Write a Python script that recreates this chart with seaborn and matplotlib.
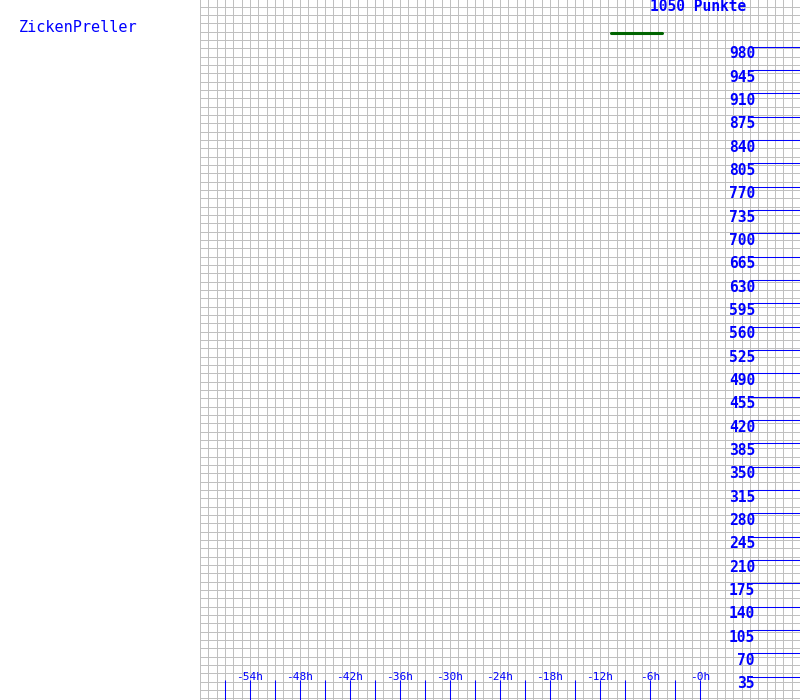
import numpy as np
import pandas as pd
import matplotlib
matplotlib.use("Agg")
import matplotlib.pyplot as plt
import seaborn as sns

# ---- data ----
title_left = "ZickenPreller"
title_right = "1050 Punkte"
series_hours = [-10.7, -4.6]
series_points = [1000, 1000]
y_tick_values = [35 * k for k in range(1, 29)]          # 35 ... 980
x_tick_hours = list(range(-57, 1, 3))                    # small tick marks
x_label_hours = [-54, -48, -42, -36, -30, -24, -18, -12, -6, 0]
x_labels = ["-54h", "-48h", "-42h", "-36h", "-30h", "-24h", "-18h", "-12h", "-6h", "-0h"]

BLUE = "#0000ff"
GREEN = "#006400"
GRID = "#c0c0c0"

sns.set_style("white")
plt.rcParams["font.family"] = ["DejaVu Sans Mono", "DejaVu Sans"]

fig = plt.figure(figsize=(8, 7), dpi=100)
ax = fig.add_axes([0.25, 0.0, 0.75, 1.0])
ax.set_xlim(-60, 12)
ax.set_ylim(0, 1050)
for s in ax.spines.values():
    s.set_visible(False)

# background grid
ax.set_xticks(np.arange(-60, 13, 1))
ax.set_yticks(np.arange(2.5, 1050, 12.5))
ax.tick_params(length=0, labelbottom=False, labelleft=False)
ax.grid(True, color=GRID, linewidth=0.72, antialiased=False)
ax.set_axisbelow(True)

# series
df = pd.DataFrame({"h": series_hours, "p": series_points})
sns.lineplot(data=df, x="h", y="p", ax=ax, color=GREEN, linewidth=2.2, legend=False)
ax.set_xlabel("")
ax.set_ylabel("")

# right-side value scale
ax.hlines(y_tick_values, 6, 12, color=BLUE, linewidth=0.75, snap=True)
for v in y_tick_values:
    ax.text(6.6, v - 10.5, str(v), color=BLUE, fontsize=10.5, fontweight="bold",
            ha="right", va="center")

# bottom time scale
ax.vlines(x_tick_hours, 0, 30, color=BLUE, linewidth=0.75, snap=True)
for h, lab in zip(x_label_hours, x_labels):
    ax.text(h, 34.5, lab, color=BLUE, fontsize=8, ha="center", va="center")

# titles
fig.text(19 / 800, 1 - 28 / 700, title_left, color=BLUE, fontsize=11,
         ha="left", va="center")
ax.text(-0.24, 1034, title_right, color=BLUE, fontsize=10.5, fontweight="bold",
        ha="center", va="baseline")

fig.savefig("out.png", dpi=100)
